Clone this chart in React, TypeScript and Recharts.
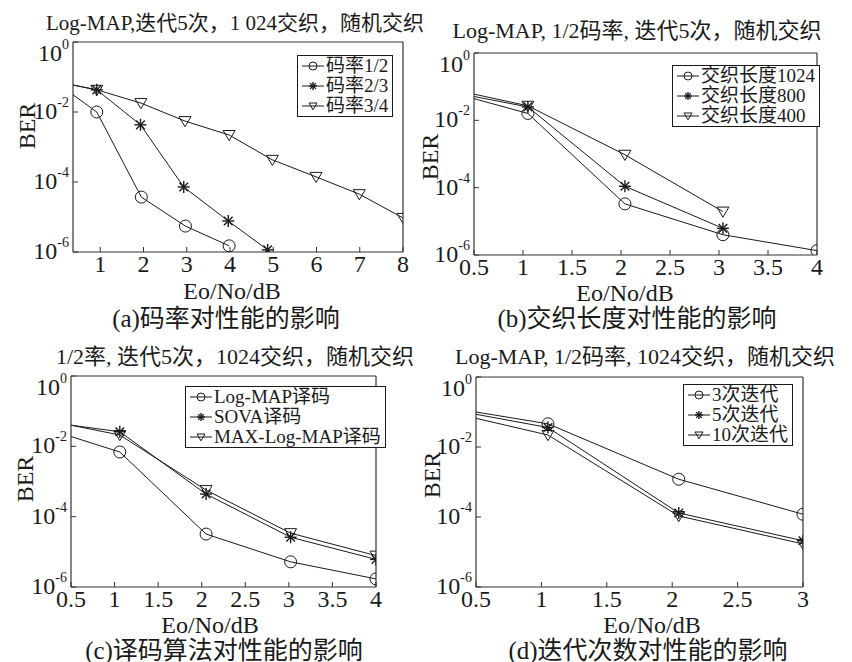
import React from "react";
import { LineChart, Line, XAxis, YAxis, Legend } from "recharts";

const FONT = '"Liberation Serif", "Noto Sans CJK SC", serif';
const INK = "#1a1a1a";

// (a) code rate, Log-MAP, 5 iterations, 1024 interleaver
const rateHalfX = [0.37, 0.92, 1.95, 2.97, 3.98];
const rateHalfBer = [0.031, 0.01, 3.7e-5, 5.5e-6, 1.5e-6];
const rateTwoThirdsX = [0.37, 0.92, 1.93, 2.93, 3.96, 4.87];
const rateTwoThirdsBer = [0.059, 0.043, 0.0043, 7.2e-5, 7.7e-6, 1.15e-6];
const rateThreeQuartersX = [0.37, 0.92, 1.94, 2.96, 3.98, 4.98, 5.99, 6.99, 8.0];
const rateThreeQuartersBer = [0.059, 0.043, 0.018, 0.0055, 0.0022, 4.3e-4, 1.4e-4, 4.5e-5, 9.4e-6];

// (b) interleaver length
const lengthX = [0.5, 1.05, 2.04, 3.04, 4.0];
const len1024Ber = [0.044, 0.016, 3.3e-5, 4e-6, 1.35e-6];
const len800Ber = [0.051, 0.025, 1.1e-4, 6.2e-6];
const len400Ber = [0.06, 0.027, 9.5e-4, 1.95e-5];

// (c) decoding algorithm
const decodeX = [0.5, 1.06, 2.05, 3.02, 4.0];
const logMapBer = [0.019, 0.0069, 3.2e-5, 5.2e-6, 1.7e-6];
const sovaBer = [0.04, 0.026, 4.4e-4, 2.6e-5, 6.1e-6];
const maxLogMapBer = [0.04, 0.021, 5.7e-4, 3.4e-5, 7.8e-6];

// (d) number of iterations
const iterX = [0.5, 1.05, 2.05, 3.0];
const iter3Ber = [0.1, 0.046, 1.2e-3, 1.2e-4];
const iter5Ber = [0.086, 0.036, 1.3e-4, 2.1e-5];
const iter10Ber = [0.066, 0.022, 1.07e-4, 1.7e-5];

const berTicks = [1, 1e-2, 1e-4, 1e-6];
const ticksA = [1, 2, 3, 4, 5, 6, 7, 8];
const ticksBC = [0.5, 1, 1.5, 2, 2.5, 3, 3.5, 4];
const ticksD = [0.5, 1, 1.5, 2, 2.5, 3];

const zip = (xs: number[], ys: number[]) => ys.map((y, i) => ({ x: xs[i], y }));

type Kind = "circle" | "star" | "tri";

const Marker = ({ kind, cx, cy, s }: { kind: Kind; cx: number; cy: number; s: number }) => {
  if (kind === "circle")
    return <circle cx={cx} cy={cy} r={s} fill="none" stroke={INK} strokeWidth={1} />;
  if (kind === "star") {
    const d = s * 0.72;
    return (
      <g stroke={INK} strokeWidth={1.4}>
        <line x1={cx - s} y1={cy} x2={cx + s} y2={cy} />
        <line x1={cx} y1={cy - s} x2={cx} y2={cy + s} />
        <line x1={cx - d} y1={cy - d} x2={cx + d} y2={cy + d} />
        <line x1={cx - d} y1={cy + d} x2={cx + d} y2={cy - d} />
      </g>
    );
  }
  return (
    <polygon
      points={`${cx - s},${cy - s * 0.75} ${cx + s},${cy - s * 0.75} ${cx},${cy + s * 0.95}`}
      fill="none"
      stroke={INK}
      strokeWidth={1}
    />
  );
};

// first point sits on the left edge of the axes and has no marker
const dotFor = (kind: Kind) => (p: any) => {
  if (p.index === 0 || p.cx == null) return <g key={`d${p.index}`} />;
  return (
    <g key={`d${p.index}`}>
      <Marker kind={kind} cx={p.cx} cy={p.cy} s={6} />
    </g>
  );
};

const PowerTick = (p: any) => {
  const e = Math.round(Math.log10(p.payload.value));
  return (
    <text
      x={p.x}
      y={p.y + (e === 0 ? 11 : -1)}
      textAnchor="end"
      dominantBaseline="central"
      fontFamily={FONT}
      fontSize={24}
      fill={INK}
    >
      10
      <tspan fontSize={14} dy={-9}>
        {e}
      </tspan>
    </text>
  );
};

const NumTick = (p: any) => (
  <text x={p.x} y={p.y + 15} textAnchor="middle" fontFamily={FONT} fontSize={24} fill={INK}>
    {p.payload.value}
  </text>
);

type Series = { name: string; kind: Kind; data: { x: number; y: number }[] };

const legendContent = (series: Series[]) => () => (
  <div
    style={{
      border: `1px solid ${INK}`,
      background: "#fff",
      padding: "0 4px 0 2px",
      fontFamily: FONT,
      fontSize: 19,
      lineHeight: "20px",
      color: INK,
    }}
  >
    {series.map((s) => (
      <div key={s.name} style={{ display: "flex", alignItems: "center", whiteSpace: "nowrap" }}>
        <svg width={26} height={20}>
          <line x1={2} y1={10} x2={24} y2={10} stroke={INK} />
          <Marker kind={s.kind} cx={13} cy={10} s={4} />
        </svg>
        <span>{s.name}</span>
      </div>
    ))}
  </div>
);

type PanelProps = {
  left: number;
  top: number;
  plot: { l: number; t: number; r: number; b: number };
  domain: [number, number];
  ticks: number[];
  series: Series[];
  legendAt: { x: number; y: number };
};

const W = 426;
const H = 331;

const Panel = ({ left, top, plot, domain, ticks, series, legendAt }: PanelProps) => (
  <div style={{ position: "absolute", left, top }}>
    <LineChart width={W} height={H} margin={{ top: 0, left: 0, right: 0, bottom: 0 }}>
      <XAxis
        xAxisId="b"
        dataKey="x"
        type="number"
        domain={domain}
        ticks={ticks}
        interval={0}
        allowDataOverflow
        height={H - plot.b}
        tickSize={-5}
        tickMargin={10}
        axisLine={{ stroke: "#333", strokeWidth: 1.2 }}
        tickLine={{ stroke: "#333" }}
        tick={<NumTick />}
      />
      <XAxis
        xAxisId="t"
        orientation="top"
        dataKey="x"
        type="number"
        domain={domain}
        ticks={ticks}
        interval={0}
        allowDataOverflow
        height={plot.t}
        tickSize={-5}
        tick={false}
        axisLine={{ stroke: "#333", strokeWidth: 1.2 }}
        tickLine={{ stroke: "#333" }}
      />
      <YAxis
        yAxisId="l"
        type="number"
        scale="log"
        domain={[1e-6, 1]}
        ticks={berTicks}
        interval={0}
        allowDataOverflow
        width={plot.l}
        tickSize={-5}
        tickMargin={9}
        axisLine={{ stroke: "#333", strokeWidth: 1.2 }}
        tickLine={{ stroke: "#333" }}
        tick={<PowerTick />}
      />
      <YAxis
        yAxisId="r"
        orientation="right"
        type="number"
        scale="log"
        domain={[1e-6, 1]}
        ticks={berTicks}
        interval={0}
        allowDataOverflow
        width={W - plot.r}
        tickSize={-5}
        tick={false}
        axisLine={{ stroke: "#333", strokeWidth: 1.2 }}
        tickLine={{ stroke: "#333" }}
      />
      {series.map((s) => (
        <Line
          key={s.name}
          xAxisId="b"
          yAxisId="l"
          data={s.data}
          dataKey="y"
          name={s.name}
          stroke={INK}
          strokeWidth={1}
          dot={dotFor(s.kind)}
          activeDot={false}
          isAnimationActive={false}
        />
      ))}
      <Legend
        verticalAlign="middle"
        align="center"
        content={legendContent(series)}
        wrapperStyle={{ left: legendAt.x, top: legendAt.y, width: "auto", height: "auto" }}
      />
    </LineChart>
  </div>
);

const Txt = ({
  x,
  y,
  size,
  rotate,
  children,
}: {
  x: number;
  y: number;
  size: number;
  rotate?: boolean;
  children: React.ReactNode;
}) => (
  <div
    style={{
      position: "absolute",
      left: x,
      top: y,
      transform: `translate(-50%, -50%)${rotate ? " rotate(-90deg)" : ""}`,
      fontFamily: FONT,
      fontSize: size,
      lineHeight: 1,
      whiteSpace: "nowrap",
      color: INK,
    }}
  >
    {children}
  </div>
);

export default function App() {
  const seriesA: Series[] = [
    { name: "码率1/2", kind: "circle", data: zip(rateHalfX, rateHalfBer) },
    { name: "码率2/3", kind: "star", data: zip(rateTwoThirdsX, rateTwoThirdsBer) },
    { name: "码率3/4", kind: "tri", data: zip(rateThreeQuartersX, rateThreeQuartersBer) },
  ];
  const seriesB: Series[] = [
    { name: "交织长度1024", kind: "circle", data: zip(lengthX, len1024Ber) },
    { name: "交织长度800", kind: "star", data: zip(lengthX, len800Ber) },
    { name: "交织长度400", kind: "tri", data: zip(lengthX, len400Ber) },
  ];
  const seriesC: Series[] = [
    { name: "Log-MAP译码", kind: "circle", data: zip(decodeX, logMapBer) },
    { name: "SOVA译码", kind: "star", data: zip(decodeX, sovaBer) },
    { name: "MAX-Log-MAP译码", kind: "tri", data: zip(decodeX, maxLogMapBer) },
  ];
  const seriesD: Series[] = [
    { name: "3次迭代", kind: "circle", data: zip(iterX, iter3Ber) },
    { name: "5次迭代", kind: "star", data: zip(iterX, iter5Ber) },
    { name: "10次迭代", kind: "tri", data: zip(iterX, iter10Ber) },
  ];

  return (
    <div
      style={{
        position: "absolute",
        left: 0,
        top: 0,
        width: 852,
        height: 662,
        background: "#fff",
        overflow: "hidden",
      }}
    >
      <Panel
        left={0}
        top={0}
        plot={{ l: 73, t: 42, r: 403, b: 252 }}
        domain={[0.37, 8]}
        ticks={ticksA}
        series={seriesA}
        legendAt={{ x: 297, y: 55 }}
      />
      <Panel
        left={426}
        top={0}
        plot={{ l: 48, t: 53, r: 391, b: 255 }}
        domain={[0.5, 4]}
        ticks={ticksBC}
        series={seriesB}
        legendAt={{ x: 246, y: 65 }}
      />
      <Panel
        left={0}
        top={331}
        plot={{ l: 71, t: 45, r: 376, b: 256 }}
        domain={[0.5, 4]}
        ticks={ticksBC}
        series={seriesC}
        legendAt={{ x: 185, y: 55 }}
      />
      <Panel
        left={426}
        top={331}
        plot={{ l: 50, t: 46, r: 377, b: 256 }}
        domain={[0.5, 3]}
        ticks={ticksD}
        series={seriesD}
        legendAt={{ x: 257, y: 53 }}
      />

      <Txt x={235} y={23} size={21}>Log-MAP,迭代5次，1 024交织，随机交织</Txt>
      <Txt x={637} y={31} size={22}>Log-MAP, 1/2码率, 迭代5次，随机交织</Txt>
      <Txt x={235} y={357} size={22}>1/2率, 迭代5次，1024交织，随机交织</Txt>
      <Txt x={645} y={357} size={22}>Log-MAP, 1/2码率, 1024交织，随机交织</Txt>

      <Txt x={27} y={126} size={24} rotate>BER</Txt>
      <Txt x={430} y={157} size={24} rotate>BER</Txt>
      <Txt x={25} y={479} size={24} rotate>BER</Txt>
      <Txt x={432} y={475} size={24} rotate>BER</Txt>

      <Txt x={232} y={291} size={24}>Eo/No/dB</Txt>
      <Txt x={625} y={293} size={24}>Eo/No/dB</Txt>
      <Txt x={210} y={625} size={24}>Eo/No/dB</Txt>
      <Txt x={652} y={625} size={24}>Eo/No/dB</Txt>

      <Txt x={226} y={318} size={25}>(a)码率对性能的影响</Txt>
      <Txt x={637} y={318} size={25}>(b)交织长度对性能的影响</Txt>
      <Txt x={224} y={650} size={25}>(c)译码算法对性能的影响</Txt>
      <Txt x={648} y={650} size={25}>(d)迭代次数对性能的影响</Txt>
    </div>
  );
}
